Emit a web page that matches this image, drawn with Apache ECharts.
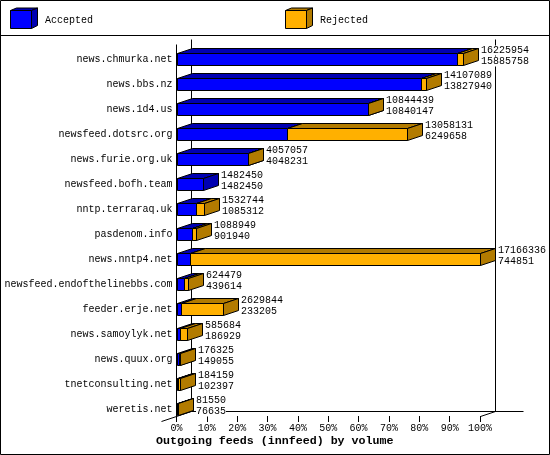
<!DOCTYPE html>
<html><head><meta charset="utf-8">
<style>html,body{margin:0;padding:0;background:#fff}#c{width:550px;height:455px}</style>
<script src="https://cdn.jsdelivr.net/npm/echarts@6/dist/echarts.min.js"></script>
</head><body><div id="c"></div>
<script>
const hosts = ['news.chmurka.net','news.bbs.nz','news.1d4.us','newsfeed.dotsrc.org','news.furie.org.uk','newsfeed.bofh.team','nntp.terraraq.uk','pasdenom.info','news.nntp4.net','newsfeed.endofthelinebbs.com','feeder.erje.net','news.samoylyk.net','news.quux.org','tnetconsulting.net','weretis.net'];
const totals = [16225954,14107089,10844439,13058131,4057057,1482450,1532744,1088949,17166336,624479,2629844,585684,176325,184159,81550];
const accepted = [15885758,13827940,10840147,6249658,4048231,1482450,1085312,901940,744851,439614,233205,186929,149055,102397,76635];
const tickPercents = [0,10,20,30,40,50,60,70,80,90,100];
const scaleMax = 17166336;

const FONT = '"Liberation Mono", monospace';
const DX = 15, DY = 5, BAR_H = 12;
const BLUE = ['#0000ff','#0000b2'], ORANGE = ['#ffb000','#b27b00'];

function box(x1, x2, y, colors, withSide) {
  const stroke = {stroke:'#000', lineWidth:1};
  const kids = [
    {type:'polygon', shape:{points:[[x1,y],[x1+DX,y-DY],[x2+DX,y-DY],[x2,y]]}, style:{fill:colors[1],...stroke}},
    {type:'rect', shape:{x:x1,y:y,width:x2-x1,height:BAR_H}, style:{fill:colors[0],...stroke}}
  ];
  if (withSide) kids.push({type:'polygon', shape:{points:[[x2,y],[x2+DX,y-DY],[x2+DX,y+BAR_H-DY],[x2,y+BAR_H]]}, style:{fill:colors[1],...stroke}});
  return kids;
}
function barSeries(name, data, colors) {
  return {
    name, type:'custom', coordinateSystem:'cartesian2d', clip:false, z:3,
    encode:{x:[1,2], y:0}, data,
    renderItem(params, api) {
      const row = api.value(0);
      const a = api.coord([api.value(1), row]), b = api.coord([api.value(2), row]);
      if (b[0] - a[0] <= 0 && api.value(1) > 0) return {type:'group', children:[]};
      const top = Math.floor(a[1] - BAR_H/2) + 0.5;
      return {type:'group', children: box(Math.round(a[0])+0.5, Math.round(b[0])+0.5, top, colors, true)};
    }
  };
}
const wallLine = (x1,y1,x2,y2) => ({type:'line', shape:{x1,y1,x2,y2}, style:{stroke:'#000', lineWidth:1}});
function legendBox(c) {
  const s = {stroke:'#000', lineWidth:1};
  return [
    {type:'polygon', shape:{points:[[0,0],[6,-2.5],[27,-2.5],[21,0]]}, style:{fill:c[1],...s}},
    {type:'polygon', shape:{points:[[21,0],[27,-2.5],[27,15],[21,18]]}, style:{fill:c[1],...s}},
    {type:'rect', shape:{x:0,y:0,width:21,height:18}, style:{fill:c[0],...s}}
  ];
}

const chart = echarts.init(document.getElementById('c'), null, {renderer:'canvas'});
chart.setOption({
  animation:false,
  backgroundColor:'#fff',
  grid:{left:176.5, width:303.5, top:47, height:375},
  xAxis:{type:'value', min:0, max:scaleMax, interval:scaleMax/10,
    axisLine:{show:false}, splitLine:{show:false},
    axisTick:{show:true, inside:true, length:6, lineStyle:{color:'#000', width:1}},
    axisLabel:{margin:1, color:'#000', fontFamily:FONT, fontSize:10, showMaxLabel:true, showMinLabel:true,
      formatter:v => tickPercents[Math.round(v/scaleMax*10)] + '%'}
  },
  yAxis:{type:'category', inverse:true, data:hosts,
    axisLine:{show:false}, axisTick:{show:false}, splitLine:{show:false},
    axisLabel:{margin:4, interval:0, color:'#000', fontFamily:FONT, fontSize:10}
  },
  series:[
    {type:'custom', coordinateSystem:'cartesian2d', clip:false, z:1, silent:true, data:[[0]], encode:{x:-1,y:-1},
     renderItem(params, api) {
       const n = hosts.length, s = api.size([0,1]);
       const o = api.coord([0,0]), e = api.coord([scaleMax,0]);
       const x0 = Math.round(o[0]) - 0.5, x1 = Math.round(e[0]) + 0.5;
       const yTop = Math.round(o[1] - s[1]/2) - 0.5, yBot = Math.round(o[1] + s[1]*(n-0.5)) - 0.5;
       return {type:'group', children:[
         wallLine(x0, yTop-2, x0, yBot),
         wallLine(x0-DX, yBot, x0+DX, yBot-2*DY),
         wallLine(x0+DX, yTop-7, x0+DX, yBot-2*DY),
         wallLine(x1+DX, yTop-7, x1+DX, yBot-2*DY),
         wallLine(x0+DX, yBot-2*DY, x1+DX+28, yBot-2*DY),
         wallLine(x1, yBot-DY, x1+DX, yBot-2*DY)
       ]};
     }},
    barSeries('Accepted', hosts.map((h,i)=>[i,0,accepted[i]]), BLUE),
    barSeries('Rejected', hosts.map((h,i)=>[i,accepted[i],totals[i]]), ORANGE),
    {type:'custom', coordinateSystem:'cartesian2d', clip:false, z:4, silent:true,
     encode:{x:1,y:0}, data:hosts.map((h,i)=>[i,totals[i],accepted[i]]),
     renderItem(params, api) {
       const p = api.coord([api.value(1), api.value(0)]);
       const x = Math.round(p[0]) + DX + 3;
       const txt = (t,y) => ({type:'text', x, y, style:{text:String(t), font:'10px '+FONT, fill:'#000', textAlign:'left', textVerticalAlign:'middle', backgroundColor:'#fff'}});
       return {type:'group', children:[txt(api.value(1), p[1]-9), txt(api.value(2), p[1]+2)]};
     }}
  ],
  graphic:[
    {type:'rect', z:100, shape:{x:0.5,y:0.5,width:549,height:454}, style:{fill:null, stroke:'#000', lineWidth:1}},
    {type:'line', z:100, shape:{x1:0,y1:35.5,x2:550,y2:35.5}, style:{stroke:'#000', lineWidth:1}},
    {type:'group', z:100, x:10.5, y:10.5, children:legendBox(BLUE)},
    {type:'group', z:100, x:285.5, y:10.5, children:legendBox(ORANGE)},
    {type:'text', z:100, x:45, y:20.5, style:{text:'Accepted', font:'10px '+FONT, fill:'#000', textVerticalAlign:'middle'}},
    {type:'text', z:100, x:320, y:20.5, style:{text:'Rejected', font:'10px '+FONT, fill:'#000', textVerticalAlign:'middle'}},
    {type:'text', z:100, x:156, y:441.5, style:{text:'Outgoing feeds (innfeed) by volume', font:'bold 11.65px '+FONT, fill:'#000', textVerticalAlign:'middle'}}
  ]
});
</script></body></html>
